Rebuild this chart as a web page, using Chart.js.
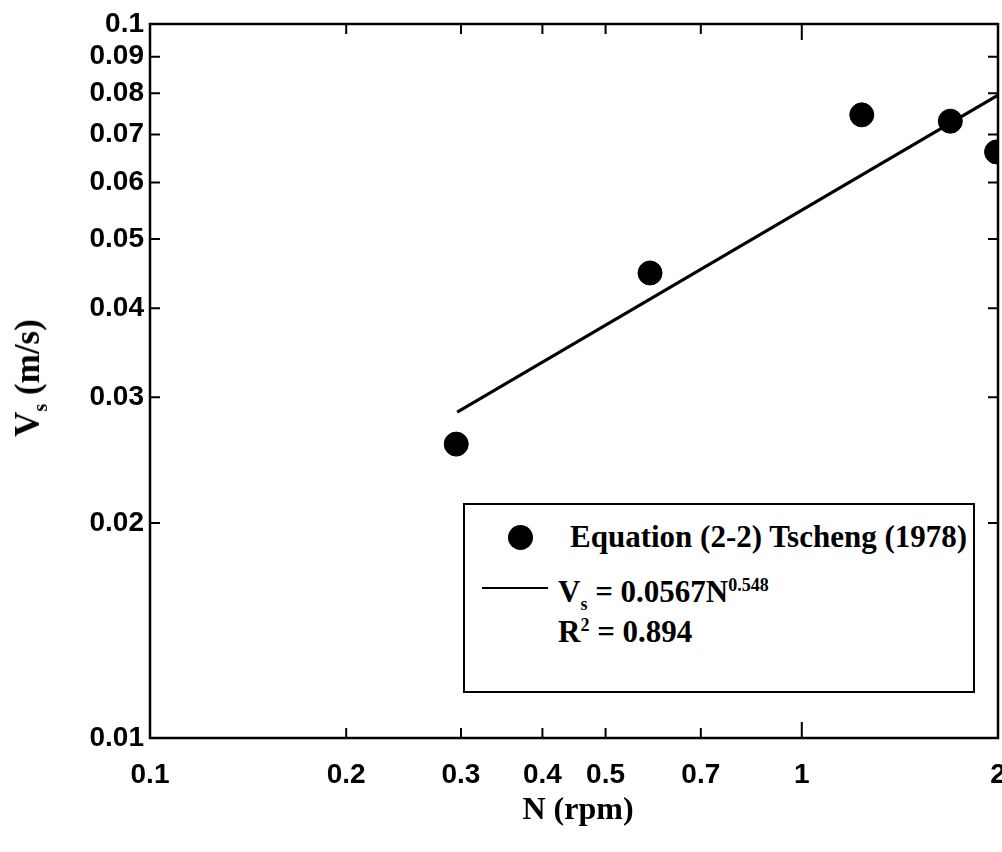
<!DOCTYPE html>
<html>
<head>
<meta charset="utf-8">
<script src="https://cdn.jsdelivr.net/npm/chart.js@4.4.0/dist/chart.umd.min.js"></script>
<style>
    html, body { margin: 0; background: #fff; overflow: hidden; }
    .wrap { position: relative; width: 1002px; height: 852px; overflow: hidden; }
    canvas { display: block; }
    .axis-title { position: absolute; font-family: "Liberation Serif", "Times New Roman", serif; font-weight: bold; color: #000; white-space: nowrap; }
    #x-title { left: 578px; top: 808px; font-size: 32px; transform: translate(-50%, -50%); }
    #y-title { left: 30px; top: 378px; font-size: 35px; transform: translate(-50%, -50%) rotate(-90deg); }
    #y-title sub { font-size: 20px; }
    .legend { position: absolute; left: 463px; top: 503px; width: 508px; height: 186px; border: 2px solid #000; background: #fff; font-family: "Liberation Serif", "Times New Roman", serif; font-weight: bold; font-size: 31px; color: #000; }
    .legend .dot { position: absolute; left: 43px; top: 20px; width: 25px; height: 25px; border-radius: 50%; background: #000; }
    .legend .sample { position: absolute; left: 17px; top: 82px; width: 66px; height: 2px; background: #000; }
    .legend .txt { position: absolute; white-space: nowrap; line-height: 36px; }
    .legend sub, .legend sup { font-size: 18px; }
</style>
</head>
<body>
<div class="wrap">
    <canvas id="chart"></canvas>
    <div class="axis-title" id="x-title">N (rpm)</div>
    <div class="axis-title" id="y-title">V<sub>s</sub> (m/s)</div>
    <div class="legend">
        <div class="dot"></div>
        <div class="txt" style="left:105px; top:14px;">Equation (2-2) Tscheng (1978)</div>
        <div class="sample"></div>
        <div class="txt" style="left:93px; top:62px;">V<sub>s</sub> = 0.0567N<sup>0.548</sup></div>
        <div class="txt" style="left:93px; top:102px;">R<sup>2</sup> = 0.894</div>
    </div>
</div>
<script>
// Data
const speedN = [0.295, 0.585, 1.236, 1.69, 1.99];
const velocity = [0.0258, 0.0448, 0.0746, 0.0731, 0.0662];

// fitted power-law line, end points
const fitN = [0.296, 2.0];
const fitV = [0.0286, 0.0795];

const xTicks = [0.1, 0.2, 0.3, 0.4, 0.5, 0.7, 1, 2];
const yTicks = [0.01, 0.02, 0.03, 0.04, 0.05, 0.06, 0.07, 0.08, 0.09, 0.1];

// Frame + inward ticks on all sides
const framePlugin = {
    id: 'frame',
    afterDraw(chart) {
        const { ctx, chartArea: a, scales } = chart;
        ctx.save();
        ctx.strokeStyle = '#000';
        ctx.lineWidth = 2.5;
        ctx.strokeRect(a.left, a.top, a.right - a.left, a.bottom - a.top);
        ctx.lineWidth = 2;
        ctx.beginPath();
        xTicks.forEach(v => {
            const px = scales.x.getPixelForValue(v);
            const len = v === 1 ? 16 : 10;
            ctx.moveTo(px, a.bottom); ctx.lineTo(px, a.bottom - len);
            ctx.moveTo(px, a.top); ctx.lineTo(px, a.top + len);
        });
        yTicks.forEach(v => {
            const py = scales.y.getPixelForValue(v);
            ctx.moveTo(a.left, py); ctx.lineTo(a.left + 10, py);
            ctx.moveTo(a.right, py); ctx.lineTo(a.right - 10, py);
        });
        ctx.stroke();
        ctx.restore();
    }
};

const tickFont = { family: '"Liberation Sans", Arial, sans-serif', size: 28, weight: 'bold' };

new Chart(document.getElementById('chart'), {
    type: 'scatter',
    data: {
        datasets: [{
            label: 'Equation (2-2) Tscheng (1978)',
            data: speedN.map((n, i) => ({ x: n, y: velocity[i] })),
            backgroundColor: '#000',
            borderColor: '#000',
            pointRadius: 12,
            clip: 0
        }, {
            label: 'fit',
            type: 'line',
            data: fitN.map((n, i) => ({ x: n, y: fitV[i] })),
            borderColor: '#000',
            borderWidth: 3,
            pointRadius: 0,
            fill: false
        }]
    },
    options: {
        responsive: true,
        maintainAspectRatio: false,
        animation: false,
        layout: { autoPadding: false, padding: { top: 24, right: 4, left: 0, bottom: 0 } },
        plugins: { legend: { display: false }, tooltip: { enabled: false } },
        scales: {
            x: {
                type: 'logarithmic',
                min: 0.1,
                max: 2,
                grid: { display: false, drawTicks: false, tickLength: 0 },
                border: { display: false },
                afterBuildTicks: s => { s.ticks = xTicks.map(v => ({ value: v })); },
                afterFit: s => { s.height = 114; s.paddingLeft = 0; s.paddingRight = 0; },
                ticks: {
                    color: '#000',
                    font: tickFont,
                    padding: 20,
                    maxRotation: 0,
                    autoSkip: false,
                    callback: v => String(v)
                }
            },
            y: {
                type: 'logarithmic',
                min: 0.01,
                max: 0.1,
                grid: { display: false, drawTicks: false, tickLength: 0 },
                border: { display: false },
                afterBuildTicks: s => { s.ticks = yTicks.map(v => ({ value: v })); },
                afterFit: s => { s.width = 150; },
                ticks: {
                    color: '#000',
                    font: tickFont,
                    padding: 6,
                    autoSkip: false,
                    callback: v => String(v)
                }
            }
        }
    },
    plugins: [framePlugin]
});
</script>
</body>
</html>
